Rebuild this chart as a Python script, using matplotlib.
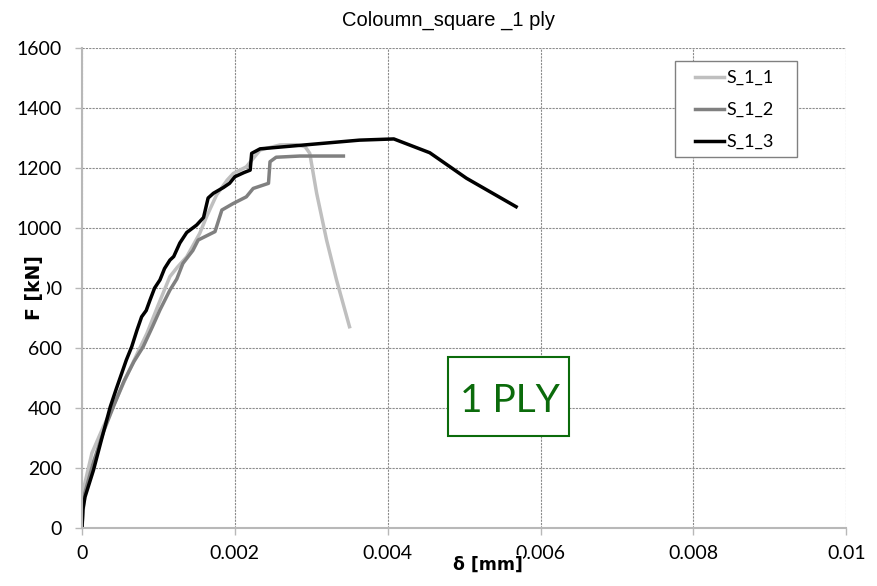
import numpy as np
import matplotlib.pyplot as plt

# displacement [mm] / force [kN] for each specimen
d_s11 = [0.0, 0.00002, 0.00013, 0.00028, 0.00045, 0.00058, 0.00072, 0.00085, 0.00100,
         0.00115, 0.00125, 0.00137, 0.00154, 0.00163, 0.00176, 0.00190, 0.00198,
         0.00215, 0.00233, 0.00259, 0.00280, 0.00292, 0.00298, 0.00307, 0.00320,
         0.00333, 0.00350]
f_s11 = [0, 130, 250, 338, 430, 504, 580, 649, 745,
         838, 870, 904, 982, 1038, 1110, 1160, 1182,
         1204, 1260, 1277, 1278, 1271, 1249, 1116, 960,
         827, 671]

d_s12 = [0.0, 0.00003, 0.00015, 0.00028, 0.00041, 0.00055, 0.00068, 0.00080, 0.00092,
         0.00102, 0.00115, 0.00124, 0.00132, 0.00145, 0.00152, 0.00174, 0.00183,
         0.00198, 0.00215, 0.00224, 0.00244, 0.00246, 0.00254, 0.00285, 0.00342]
f_s12 = [0, 110, 220, 320, 404, 490, 555, 604, 670,
         727, 793, 830, 882, 925, 960, 988, 1060,
         1082, 1104, 1132, 1149, 1221, 1236, 1240, 1240]

d_s13 = [0.0, 0.00001, 0.00004, 0.00015, 0.00025, 0.00037, 0.00045, 0.00052, 0.00058,
         0.00065, 0.00072, 0.00078, 0.00084, 0.00089, 0.00095, 0.00102, 0.00108,
         0.00115, 0.00120, 0.00128, 0.00137, 0.00150, 0.00159, 0.00165, 0.00172,
         0.00185, 0.00193, 0.00200, 0.00212, 0.00220, 0.00222, 0.00233, 0.00363,
         0.00408, 0.00455, 0.00503, 0.00568]
f_s13 = [0, 60, 104, 193, 290, 404, 465, 516, 560,
         604, 660, 704, 725, 760, 800, 827, 865,
         893, 905, 950, 985, 1010, 1035, 1100, 1116,
         1135, 1149, 1171, 1185, 1193, 1249, 1264, 1293,
         1297, 1251, 1166, 1071]

labels = ['S_1_1', 'S_1_2', 'S_1_3']
colors = ['#bfbfbf', '#808080', '#000000']

plt.rcParams['font.family'] = ['Lato', 'DejaVu Sans']

fig = plt.figure(figsize=(8.77, 5.86), dpi=100)
ax = fig.add_axes([0.0935, 0.099, 0.8715, 0.819])

for d, f, lab, c in zip([d_s11, d_s12, d_s13], [f_s11, f_s12, f_s13], labels, colors):
    ax.plot(d, f, color=c, lw=2.5, label=lab, solid_joinstyle='round')

ax.set_xlim(0, 0.01)
ax.set_ylim(0, 1600)
ax.set_xticks(np.arange(0, 0.0101, 0.002))
ax.set_xticklabels(['0', '0.002', '0.004', '0.006', '0.008', '0.01'])
ax.set_yticks(range(0, 1601, 200))

ax.grid(True, color='#8c8c8c', linestyle=(0, (2, 1)), linewidth=0.8)
ax.set_axisbelow(True)
for side in ['top', 'right']:
    ax.spines[side].set_visible(False)
for side in ['left', 'bottom']:
    ax.spines[side].set_color('#b8b8b8')
    ax.spines[side].set_linewidth(1.5)
ax.tick_params(direction='out', length=5, width=1, color='#b8b8b8',
               labelsize=14, labelcolor='black')
ax.tick_params(axis='x', pad=7)
ax.tick_params(axis='y', pad=9.5)

ax.set_title('Coloumn_square _1 ply', fontsize=14.5, family='Liberation Sans', pad=16, x=0.48)
ax.set_xlabel('δ [mm]', fontsize=12.5, fontweight='bold', family='DejaVu Sans',
              bbox=dict(facecolor='white', edgecolor='none', pad=0.5))
ax.set_ylabel('F [kN]', fontsize=13.5, fontweight='bold', family='DejaVu Sans',
              bbox=dict(facecolor='white', edgecolor='none', pad=2.5))
ax.xaxis.set_label_coords(0.531, -0.058)
ax.yaxis.set_label_coords(-0.075, 0.5)
ax.yaxis.label.set_verticalalignment('top')

# legend: entries without frame, box drawn separately (wide side margins)
ax.add_patch(plt.Rectangle((0.776, 0.773), 0.160, 0.200, transform=ax.transAxes,
                           facecolor='white', edgecolor='#808080', lw=1, zorder=4))
leg = ax.legend(loc='upper left', bbox_to_anchor=(0.802, 0.954), fontsize=13,
                handlelength=1.6, handletextpad=0.15, labelspacing=0.88,
                frameon=False, borderpad=0, borderaxespad=0)
leg.set_zorder(5)

# annotation box
ax.add_patch(plt.Rectangle((0.479, 0.192), 0.158, 0.164, transform=ax.transAxes,
                           facecolor='white', edgecolor='#0b6b0b', lw=1.5, zorder=4))
ax.text(0.560, 0.242, '1 PLY', transform=ax.transAxes, fontsize=28, color='#0b6b0b',
        ha='center', va='baseline', zorder=5)

fig.savefig('out.png', dpi=100)
